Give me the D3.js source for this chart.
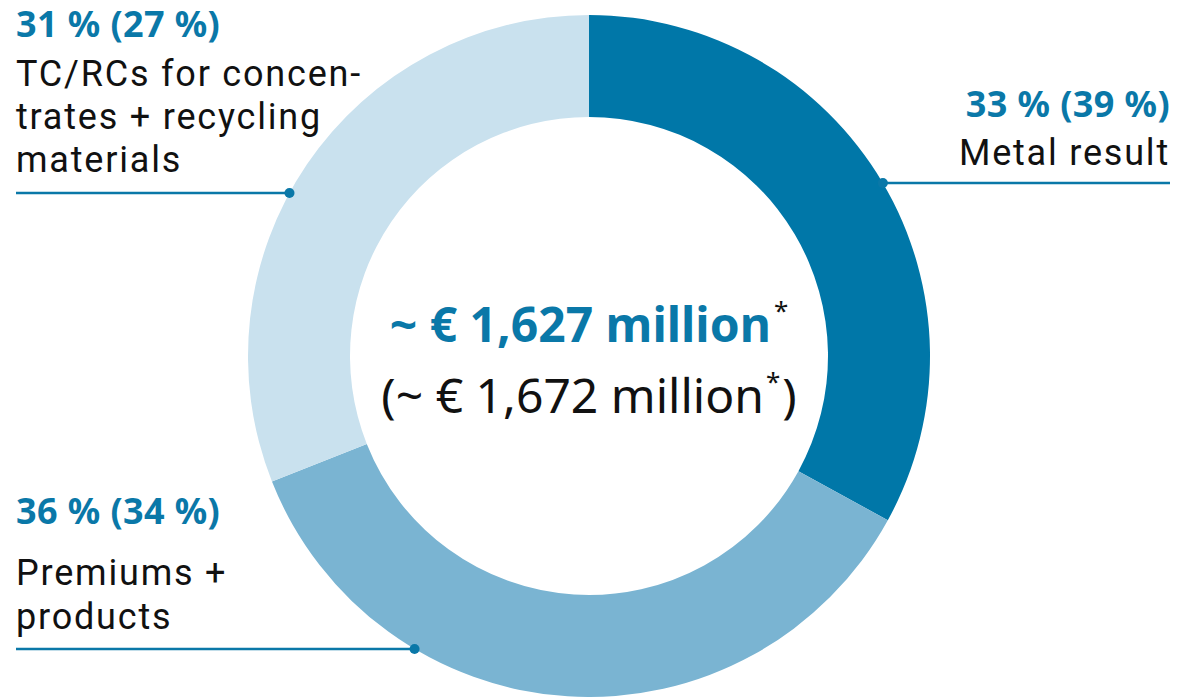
<!DOCTYPE html>
<html><head><meta charset="utf-8">
<script src="https://cdn.jsdelivr.net/npm/d3@7"></script>
<style>html,body{margin:0;padding:0;background:#fff;}svg{display:block;}</style>
</head><body>
<svg id="chart" width="1178" height="697"></svg>
<script>
const categories = ["Metal result", "Premiums + products", "TC/RCs for concentrates + recycling materials"];
const shares = [33, 36, 31];
const prevShares = [39, 34, 27];
const labelLines = [["Metal result"], ["Premiums +", "products"], ["TC/RCs for concen-", "trates + recycling", "materials"]];
const totalNow = "~ € 1,627 million";
const totalPrev = "(~ € 1,672 million";
const colors = ["#0077a8", "#7ab4d2", "#c9e1ee"];

const svg = d3.select("#chart");
const cx = 589, cy = 356, R = 341, r = 239;
const blue = "#0a78a8";
const font = "'Noto Sans', sans-serif";
const font2 = "Roboto, 'Noto Sans', sans-serif";

const pie = d3.pie().sort(null).value(d => d)(shares);
const arc = d3.arc().innerRadius(r).outerRadius(R);
const g = svg.append("g").attr("transform", `translate(${cx},${cy})`);
g.selectAll("path").data(pie).join("path").attr("d", arc).attr("fill", (d, i) => colors[i]);

// center text
const t1 = svg.append("text").attr("x", cx).attr("y", 342).attr("text-anchor", "middle")
  .attr("font-family", font).attr("font-weight", 700).attr("font-size", 48).attr("fill", blue);
t1.append("tspan").text(totalNow);
t1.append("tspan").text("*").attr("font-size", 26).attr("font-weight", 400).attr("dy", -22).attr("dx", 3).attr("fill", "#111");
const t2 = svg.append("text").attr("x", cx).attr("y", 413).attr("text-anchor", "middle")
  .attr("font-family", font).attr("font-size", 48).attr("fill", "#111");
t2.append("tspan").text(totalPrev);
t2.append("tspan").text("*").attr("font-size", 26).attr("dy", -22).attr("dx", 2);
t2.append("tspan").text(")").attr("dy", 22).attr("dx", 2);

// labels config (layout)
const layout = [
  {side: "right", lineY: 183, x0: 1170, pctY: 117, lineYs: [165]},
  {side: "left", lineY: 649, x0: 16, pctY: 524, lineYs: [585, 629]},
  {side: "left", lineY: 193, x0: 16, pctY: 37, lineYs: [86, 129, 172]}
];
layout.forEach((L, i) => {
  const dy = L.lineY - cy;
  const dx = Math.sqrt(R * R - dy * dy) * (L.side === "right" ? 1 : -1);
  const px = cx + dx;
  svg.append("line").attr("x1", L.x0).attr("x2", px).attr("y1", L.lineY).attr("y2", L.lineY)
    .attr("stroke", blue).attr("stroke-width", 2.5);
  svg.append("circle").attr("cx", px).attr("cy", L.lineY).attr("r", 5).attr("fill", blue);
  const anchor = L.side === "right" ? "end" : "start";
  svg.append("text").attr("x", L.x0).attr("y", L.pctY).attr("text-anchor", anchor)
    .attr("font-family", font).attr("font-weight", 700).attr("font-size", 36).attr("letter-spacing", 0.4).attr("fill", blue)
    .text(`${shares[i]} % (${prevShares[i]} %)`);
  labelLines[i].forEach((s, j) => {
    svg.append("text").attr("x", L.x0).attr("y", L.lineYs[j]).attr("text-anchor", anchor)
      .attr("font-family", font2).attr("font-size", 36).attr("fill", "#111").attr("letter-spacing", 1.8).text(s);
  });
});
</script>
</body></html>
